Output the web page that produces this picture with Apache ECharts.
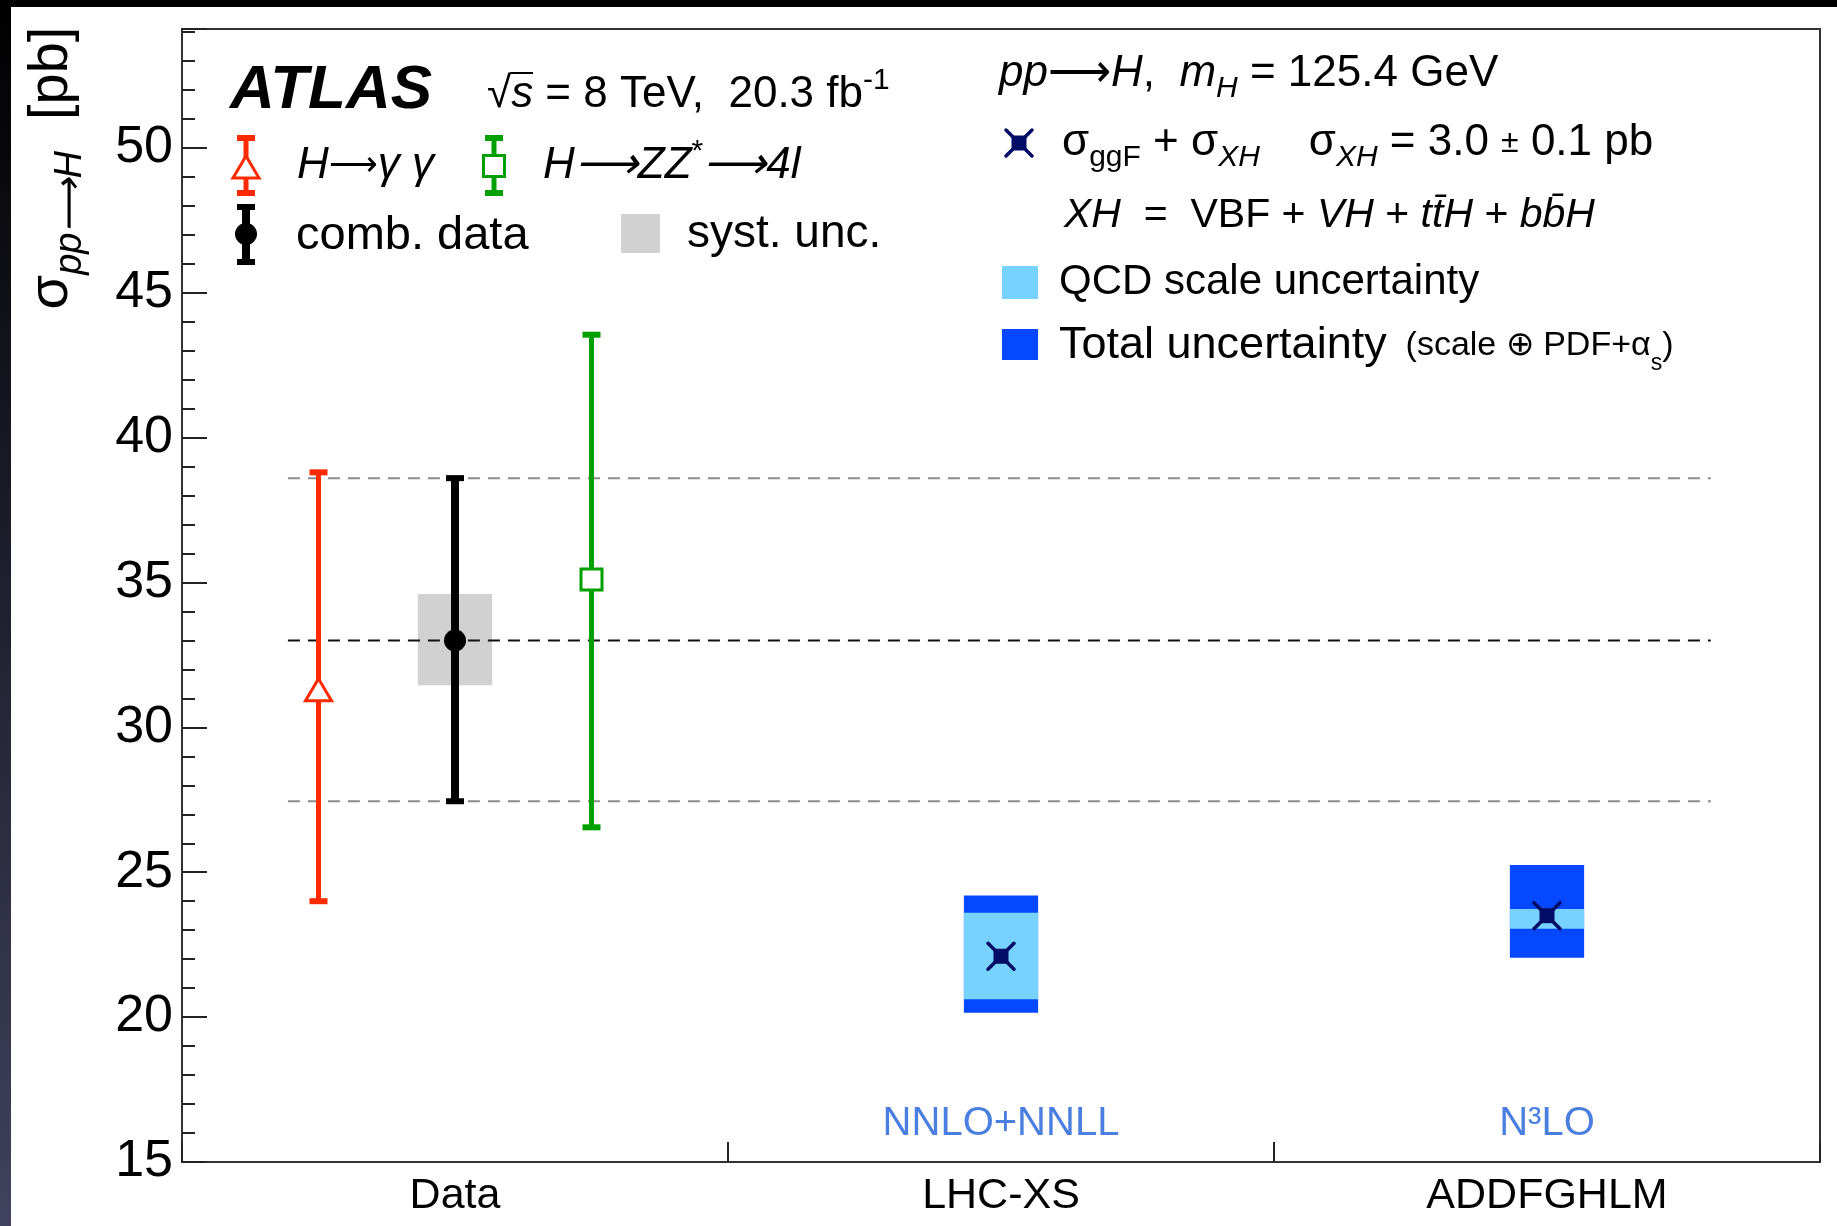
<!DOCTYPE html>
<html><head><meta charset="utf-8">
<script src="https://cdn.jsdelivr.net/npm/echarts@6/dist/echarts.min.js"></script>
<style>html,body{margin:0;padding:0;background:#fff}#c{width:1837px;height:1226px}</style>
</head><body><div id="c"></div>
<script>
// ---------------- data ----------------
const categories = ['Data', 'LHC-XS', 'ADDFGHLM'];
const measNames = ['H→γγ', 'comb. data', 'H→ZZ*→4l'];
const measX = [0.25, 0.5, 0.75];
const measVal = [31.3, 33.0, 35.1];
const measLo = [24.0, 27.45, 26.55];
const measHi = [38.8, 38.6, 43.55];
const systX = [0.5];
const systLo = [31.45];
const systHi = [34.6];
const combRef = [27.45, 33.0, 38.6];
const theoryNames = ['NNLO+NNLL', 'N³LO'];
const theoryX = [1.5, 2.5];
const theoryVal = [22.1, 23.5];
const totLo = [20.15, 22.05];
const totHi = [24.2, 25.25];
const scaleLo = [20.62, 23.05];
const scaleHi = [23.6, 23.73];
const yMajorTicks = [15, 20, 25, 30, 35, 40, 45, 50];

// ---------------- styles ----------------
const FF = '"Liberation Sans", Arial, Helvetica, sans-serif';
const RED = '#ff2a00', GREEN = '#00a000', BLACK = '#000000';
const LIGHT = '#78d2ff', DARK = '#0548ff', NAVY = '#000c66';
const measStyle = [
  {color: RED, lw: 5, marker: 'tri'},
  {color: BLACK, lw: 8, marker: 'circle'},
  {color: GREEN, lw: 5, marker: 'square'}
];

function markerEls(kind, color, cx, cy) {
  if (kind === 'tri') {
    return [{type: 'polygon', shape: {points: [[cx - 13, cy + 11], [cx + 13, cy + 11], [cx, cy - 11]]},
      style: {fill: '#fff', stroke: color, lineWidth: 3}}];
  }
  if (kind === 'circle') {
    return [{type: 'circle', shape: {cx: cx, cy: cy, r: 11}, style: {fill: color}}];
  }
  if (kind === 'square') {
    return [{type: 'rect', shape: {x: cx - 10.5, y: cy - 10.5, width: 21, height: 21},
      style: {fill: '#fff', stroke: color, lineWidth: 3}}];
  }
  const els = [];
  [[-1, -1], [1, -1], [1, 1], [-1, 1]].forEach(function (d) {
    els.push({type: 'line', shape: {x1: cx, y1: cy, x2: cx + d[0] * 13, y2: cy + d[1] * 13},
      style: {stroke: NAVY, lineWidth: 3.5, lineCap: 'round'}});
  });
  els.push({type: 'rect', shape: {x: cx - 7.5, y: cy - 7.5, width: 15, height: 15}, style: {fill: NAVY}});
  return els;
}

function errBarEls(st, x, yTop, yBot, yC) {
  const els = [
    {type: 'line', shape: {x1: x, y1: yTop, x2: x, y2: yBot}, style: {stroke: st.color, lineWidth: st.lw}},
    {type: 'rect', shape: {x: x - 9, y: yTop - 3, width: 18, height: 6}, style: {fill: st.color}},
    {type: 'rect', shape: {x: x - 9, y: yBot - 3, width: 18, height: 6}, style: {fill: st.color}}
  ];
  return els.concat(markerEls(st.marker, st.color, x, yC));
}

function renderMeas(params, api) {
  const i = params.dataIndex;
  const x = api.value(0), v = api.value(1), lo = api.value(2), hi = api.value(3);
  const pT = api.coord([x, hi]), pB = api.coord([x, lo]), pC = api.coord([x, v]);
  return {type: 'group', children: errBarEls(measStyle[i], pC[0], pT[1], pB[1], pC[1])};
}

const HALFW = 0.068;
function renderSyst(params, api) {
  const x = api.value(0), lo = api.value(1), hi = api.value(2);
  const a = api.coord([x - HALFW, hi]), b = api.coord([x + HALFW, lo]);
  return {type: 'rect', shape: {x: a[0], y: a[1], width: b[0] - a[0], height: b[1] - a[1]}, style: {fill: '#d1d1d1'}};
}

function renderTheory(params, api) {
  const i = params.dataIndex;
  const x = api.value(0), v = api.value(1);
  const tl = api.value(2), th = api.value(3), sl = api.value(4), sh = api.value(5);
  const a = api.coord([x - HALFW, th]), b = api.coord([x + HALFW, tl]);
  const c = api.coord([x - HALFW, sh]), d = api.coord([x + HALFW, sl]);
  const pC = api.coord([x, v]);
  const base = api.coord([x, 15]);
  const els = [
    {type: 'rect', shape: {x: a[0], y: a[1], width: b[0] - a[0], height: b[1] - a[1]}, style: {fill: DARK}},
    {type: 'rect', shape: {x: c[0], y: c[1], width: d[0] - c[0], height: d[1] - c[1]}, style: {fill: LIGHT}}
  ].concat(markerEls('star', NAVY, pC[0], pC[1]));
  els.push({type: 'text', x: base[0], y: base[1] - 38,
    style: {text: theoryNames[i], fill: '#4a7fe0', fontSize: 40, fontFamily: FF, align: 'center', verticalAlign: 'middle'}});
  return {type: 'group', children: els};
}

// ---------------- rich text helper ----------------
function richSet(fs) {
  const LH = Math.round(fs * 1.34);
  const sfs = Math.round(fs * 0.68);
  const subL = LH - 0.66 * fs;
  const supL = LH - 0.56 * fs;
  return {
    n: {fontSize: fs, fontFamily: FF, fill: '#000', lineHeight: LH},
    i: {fontSize: fs, fontFamily: FF, fontStyle: 'italic', fill: '#000', lineHeight: LH},
    b: {fontSize: fs, fontFamily: FF, fontStyle: 'italic', fontWeight: 'bold', fill: '#000', lineHeight: LH},
    ar: {fontSize: Math.round(fs * 0.78), fontFamily: FF, fill: '#000', lineHeight: LH},
    sm: {fontSize: Math.round(fs * 0.72), fontFamily: FF, fill: '#000', lineHeight: LH},
    sub: {fontSize: sfs, fontFamily: FF, fill: '#000', lineHeight: subL, verticalAlign: 'bottom'},
    isub: {fontSize: sfs, fontFamily: FF, fontStyle: 'italic', fill: '#000', lineHeight: subL, verticalAlign: 'bottom'},
    sup: {fontSize: sfs, fontFamily: FF, fill: '#000', lineHeight: supL, verticalAlign: 'top'},
    isup: {fontSize: sfs, fontFamily: FF, fontStyle: 'italic', fill: '#000', lineHeight: supL, verticalAlign: 'top'}
  };
}
function rtext(x, baseline, fs, text, extraRich) {
  const rich = richSet(fs);
  if (extraRich) Object.assign(rich, extraRich);
  return {type: 'text', x: x, y: baseline - 0.3465 * fs, z: 100,
    style: {text: text, rich: rich, align: 'left', verticalAlign: 'middle', fontSize: fs, fontFamily: FF}};
}

// ---------------- graphics (frame decoration, legend, labels) ----------------
const graphics = [
  {type: 'rect', shape: {x: 0, y: 0, width: 1837, height: 7}, style: {fill: '#000'}, z: 200},
  {type: 'rect', shape: {x: 0, y: 0, width: 11, height: 1226}, z: 200,
    style: {fill: new echarts.graphic.LinearGradient(0, 0, 0, 1, [{offset: 0, color: '#000000'}, {offset: 1, color: '#40425f'}])}},
  rtext(230, 112, 62, '{b|ATLAS}'),
  rtext(487, 110, 44, '{n|√}{i|s}{n| = 8 TeV,  20.3 fb}{sup|-1}'),
  {type: 'line', shape: {x1: 510, y1: 73, x2: 533, y2: 73}, style: {stroke: '#000', lineWidth: 2}, z: 100},
  rtext(297, 181, 44, '{i|H}{ar|⟶}{i|γ γ}'),
  rtext(543, 181, 44, '{i|H⟶ZZ}{sup|*}{i|⟶4l}'),
  rtext(296, 252, 47, '{n|comb. data}'),
  {type: 'rect', shape: {x: 621, y: 214, width: 39, height: 39}, style: {fill: '#d1d1d1'}, z: 100},
  rtext(687, 250, 46, '{n|syst. unc.}'),
  rtext(999, 89, 44, '{i|pp}{n|⟶}{i|H}{n|,  }{i|m}{isub|H}{n| = 125.4 GeV}'),
  rtext(1062, 158, 44, '{n|σ}{sub|ggF}{n| + σ}{isub|XH}{n|    σ}{isub|XH}{n| = 3.0 }{sm|±}{n| 0.1 pb}'),
  rtext(1064, 230, 41, '{i|XH}{n|  =  VBF + }{i|VH}{n| + }{i|tt̄H}{n| + }{i|bb̄H}'),
  {type: 'rect', shape: {x: 1002, y: 266, width: 36, height: 33}, style: {fill: LIGHT}, z: 100},
  rtext(1059, 297, 42, '{n|QCD scale uncertainty}'),
  {type: 'rect', shape: {x: 1002, y: 329, width: 36, height: 31}, style: {fill: DARK}, z: 100},
  rtext(1059, 361, 45, '{n|Total uncertainty}{s|  (scale ⊕ PDF+α}{ss|s}{s|)}', {
    s: {fontSize: 34, fontFamily: FF, fill: '#000', lineHeight: 60},
    ss: {fontSize: 23, fontFamily: FF, fill: '#000', lineHeight: 24, verticalAlign: 'bottom'}
  }),
  // y axis title (rotated)
  {type: 'text', x: 52, y: 168, rotation: Math.PI / 2, z: 100,
    style: {text: '{m|σ}{s|pp⟶H}{m|  [pb]}', align: 'center', verticalAlign: 'middle',
      rich: {
        m: {fontSize: 56, fontFamily: FF, fill: '#000', lineHeight: 74},
        s: {fontSize: 38, fontFamily: FF, fontStyle: 'italic', fill: '#000', lineHeight: 38, verticalAlign: 'bottom'}
      }}}
];
// legend markers
graphics.push({type: 'group', z: 100, children: errBarEls(measStyle[0], 246, 138, 193, 167)});
graphics.push({type: 'group', z: 100, children: errBarEls(measStyle[2], 494, 138, 193, 166)});
graphics.push({type: 'group', z: 100, children: errBarEls(measStyle[1], 246, 207, 262, 234)});
graphics.push({type: 'group', z: 100, children: markerEls('star', NAVY, 1019, 143)});

// ---------------- chart ----------------
const chart = echarts.init(document.getElementById('c'), null, {renderer: 'canvas'});
const tickStyle = {color: '#222', width: 2};
chart.setOption({
  animation: false,
  backgroundColor: '#ffffff',
  grid: {left: 182, right: 17, top: 29, bottom: 64, show: true, borderColor: '#333', borderWidth: 2},
  xAxis: [
    {type: 'value', min: 0, max: 3, show: false},
    {type: 'category', data: categories, position: 'bottom', boundaryGap: true,
      axisLine: {show: false},
      axisTick: {show: true, inside: true, length: 20, lineStyle: tickStyle},
      axisLabel: {fontSize: 43, fontFamily: FF, color: '#000', margin: 13},
      splitLine: {show: false}}
  ],
  yAxis: [
    {type: 'value', min: 15, max: 54.1, interval: 5, position: 'left',
      axisLine: {show: false},
      axisTick: {show: true, inside: true, length: 25, lineStyle: tickStyle},
      axisLabel: {fontSize: 52, fontFamily: FF, color: '#000', margin: 9,
        formatter: function (v) { return yMajorTicks.indexOf(v) >= 0 ? String(v) : ''; }},
      splitLine: {show: false}},
    {type: 'value', min: 15, max: 54.1, interval: 1, position: 'left',
      axisLine: {show: false},
      axisTick: {show: true, inside: true, length: 13, lineStyle: tickStyle},
      axisLabel: {show: false}, splitLine: {show: false}}
  ],
  series: [
    {type: 'custom', name: 'syst. unc.', xAxisIndex: 0, yAxisIndex: 0, z: 1, silent: true,
      renderItem: renderSyst, data: systX.map(function (x, i) { return [x, systLo[i], systHi[i]]; })}
  ].concat(combRef.map(function (v, k) {
    return {type: 'line', xAxisIndex: 0, yAxisIndex: 0, z: 2, silent: true, symbol: 'none',
      data: [[0.194, v], [2.8, v]],
      lineStyle: {color: k === 1 ? '#111' : '#8c8c8c', width: 2, type: [12, 8]}};
  })).concat([
    {type: 'custom', name: 'measurements', xAxisIndex: 0, yAxisIndex: 0, z: 3, silent: true,
      renderItem: renderMeas,
      data: measX.map(function (x, i) { return [x, measVal[i], measLo[i], measHi[i]]; })},
    {type: 'custom', name: 'theory', xAxisIndex: 0, yAxisIndex: 0, z: 3, silent: true,
      renderItem: renderTheory,
      data: theoryX.map(function (x, i) { return [x, theoryVal[i], totLo[i], totHi[i], scaleLo[i], scaleHi[i]]; })}
  ]),
  graphic: graphics
});
</script></body></html>
